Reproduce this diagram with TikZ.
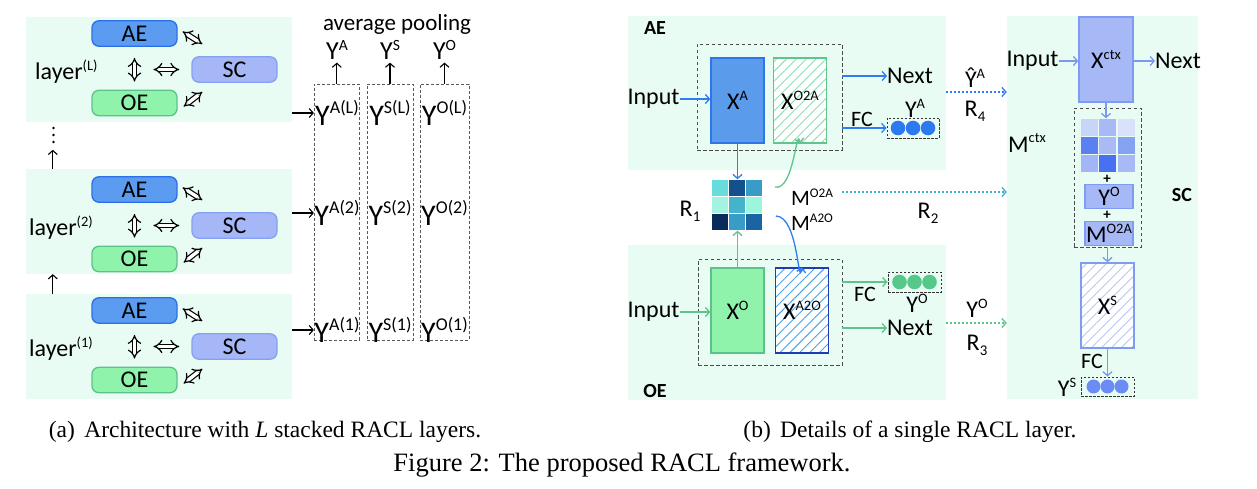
\documentclass[tikz,border=0pt]{standalone}
\usepackage{fontspec}
\setmainfont{Carlito}
\newfontfamily\capfont{Liberation Serif}
\usetikzlibrary{arrows.meta,patterns.meta,calc}
\definecolor{bandc}{HTML}{E9FCF4}
\definecolor{aefill}{HTML}{5B9CF0}
\definecolor{aedraw}{HTML}{2D6FE6}
\definecolor{scfill}{HTML}{A5B7F6}
\definecolor{scdraw}{HTML}{86A0F2}
\definecolor{oefill}{HTML}{8FF3AB}
\definecolor{oedraw}{HTML}{5DC289}
\definecolor{xafill}{HTML}{5A9CEB}
\definecolor{xadraw}{HTML}{2F74E8}
\definecolor{gdraw}{HTML}{5EC58C}
\definecolor{ghatch}{HTML}{8EDDB2}
\definecolor{xofill}{HTML}{8FF3AB}
\definecolor{xodraw}{HTML}{5DC289}
\definecolor{a2odraw}{HTML}{1B3DB5}
\definecolor{bhatch}{HTML}{4AA0EA}
\definecolor{arrblue}{HTML}{2F7DF2}
\definecolor{arrgreen}{HTML}{5CC58C}
\definecolor{arrperi}{HTML}{7A9AF0}
\definecolor{arrcyan}{HTML}{3BAFD0}
\definecolor{cirblue}{HTML}{2C79F0}
\definecolor{cirgreen}{HTML}{55C88A}
\definecolor{cirperi}{HTML}{6B8BF5}
\definecolor{ctxfill}{HTML}{A6B9F6}
\definecolor{ctxdraw}{HTML}{7E9CF2}
\definecolor{phatch}{HTML}{B8C6F6}
\definecolor{rA}{HTML}{66DCDC}
\definecolor{rB}{HTML}{14518C}
\definecolor{rC}{HTML}{389CC6}
\definecolor{rD}{HTML}{A3F2E2}
\definecolor{rE}{HTML}{44B3CB}
\definecolor{rF}{HTML}{9CF6DD}
\definecolor{rG}{HTML}{0B2A5C}
\definecolor{rH}{HTML}{389CC6}
\definecolor{rI}{HTML}{1B63A3}
\definecolor{sA}{HTML}{C9D4F9}
\definecolor{sB}{HTML}{A8B9F6}
\definecolor{sC}{HTML}{DAE1FB}
\definecolor{sD}{HTML}{5C80F2}
\definecolor{sE}{HTML}{A9BAF6}
\definecolor{sF}{HTML}{86A2F2}
\definecolor{sG}{HTML}{A2B5F6}
\definecolor{sH}{HTML}{4A70F2}
\definecolor{sI}{HTML}{A8B9F6}
\newcommand\hi[1]{\raisebox{0.38em}{\scalebox{0.6}{#1}}}
\newcommand\lo[1]{\raisebox{-0.22em}{\scalebox{0.62}{#1}}}
\tikzset{
  band/.style={rectangle, fill=bandc, draw=none},
  pill/.style={rectangle, rounded corners=7pt, minimum width=85pt, minimum height=25.5pt, line width=1.3pt},
  aebox/.style={pill, fill=aefill, draw=aedraw},
  scbox/.style={pill, fill=scfill, draw=scdraw},
  oebox/.style={pill, fill=oefill, draw=oedraw},
  dbl/.style={draw=black, double=white, double distance=3.4pt, line width=1.2pt, {Implies}-{Implies}},
  arr/.style={draw=black, line width=1.1pt, -{Straight Barb[length=4pt,width=9pt]}},
  dcol/.style={rectangle, draw=gray!70!black, dash pattern=on 3pt off 2pt, line width=0.8pt},
  dbox/.style={rectangle, draw=gray!60!black, dash pattern=on 3.5pt off 2.5pt, line width=0.9pt},
  cbox/.style={rectangle, draw=black!80, dash pattern=on 2.5pt off 1.5pt, line width=0.9pt, minimum width=52pt, minimum height=20pt},
  xbox/.style={rectangle, minimum width=53pt, minimum height=85pt, line width=1.4pt},
  sbox/.style={rectangle, minimum width=48pt, minimum height=24pt, line width=1.4pt, fill=ctxfill, draw=ctxdraw},
  barr/.style={draw=arrblue, line width=1.3pt, -{Straight Barb[length=4pt,width=9pt]}},
  garr/.style={draw=arrgreen, line width=1.3pt, -{Straight Barb[length=4pt,width=9pt]}},
  parr/.style={draw=arrperi, line width=1.3pt, -{Straight Barb[length=4pt,width=9pt]}},
  bdot/.style={draw=arrblue, line width=1.3pt, dash pattern=on 2pt off 2pt, -{Straight Barb[length=4pt,width=9pt]}},
  gdot/.style={draw=arrgreen, line width=1.3pt, dash pattern=on 2pt off 2pt, -{Straight Barb[length=4pt,width=9pt]}},
  cyarr/.style={draw=arrcyan, line width=1.3pt, dash pattern=on 2pt off 2pt, -{Straight Barb[length=4pt,width=9pt]}},
  tag/.style={font=\fontsize{20}{22}\selectfont\bfseries},
  fs22/.style={font=\fontsize{22}{24}\selectfont},
  plus/.style={font=\fontsize{15}{16}\selectfont\bfseries},
  ybig/.style={font=\fontsize{30}{32}\selectfont},
  capf/.style={font=\capfont\fontsize{23.5}{28}\selectfont},
  capg/.style={font=\capfont\fontsize{26.5}{30}\selectfont},
  hatchp/.style={preaction={fill=white}, pattern={Lines[angle=45,distance=7pt,line width=0.9pt]}, pattern color=#1}
}
\begin{document}
\begin{tikzpicture}[x=1pt,y=-1pt,font=\fontsize{24}{28}\selectfont, every node/.style={inner sep=0pt}]
\useasboundingbox (0,0) rectangle (1257,489);
\fill[white] (0,0) rectangle (1257,489);
% ---------------- left panel ----------------
\foreach \n/\s/\b/\lx/\lab in {L/0/0/35/(L), 2/156/152/29/(2), 1/277/277/29/(1)} {
  \node[band, minimum width=266pt, minimum height=105pt] (band\n) at (159,69.5+\b) {};
  \node[aebox] (AE\n) at (134.5,33.5+\s) {AE};
  \node[scbox] (SC\n) at (234.5,69.5+\s) {SC};
  \node[oebox] (OE\n) at (134.5,103+\s) {OE};
  \node[anchor=west] (lay\n) at (\lx,72+\s) {layer\hi{\lab}};
  \draw[dbl] ($(AE\n.south)+(0,11)$) -- ($(OE\n.north)+(0,-8)$);
  \draw[dbl] ($(SC\n.west)+(-38,0)$) -- ($(SC\n.west)+(-12,0)$);
  \draw[dbl] ($(AE\n.east)+(5,-2)$) -- ($(SC\n.north west)+(11,-12)$);
  \draw[dbl] ($(OE\n.east)+(6,3.5)$) -- ($(SC\n.south west)+(11,9)$);
}
\foreach \yy in {128,135,142} \fill (53.5,\yy) circle (1.4);
\draw[arr] ($(band2.north west)+(27,0)$) -- ++(0,-19);
\draw[arr] ($(band1.north west)+(27,0)$) -- ($(band2.south west)+(27,0)$);
\node[dcol, minimum width=45pt, minimum height=256pt] (colA) at (336.8,212) {};
\node[dcol, minimum width=46pt, minimum height=256pt] (colS) at (390,212) {};
\node[dcol, minimum width=49pt, minimum height=256pt] (colO) at (444.5,212) {};
\node[ybig] (yAL) at (337,113) {Y\hi{A(L)}};
\node[ybig] (ySL) at (390,113) {Y\hi{S(L)}};
\node[ybig] (yOL) at (444.5,113) {Y\hi{O(L)}};
\node[ybig] (yA2) at (337,213) {Y\hi{A(2)}};
\node[ybig] (yS2) at (390,213) {Y\hi{S(2)}};
\node[ybig] (yO2) at (444.5,213) {Y\hi{O(2)}};
\node[ybig] (yA1) at (337,330) {Y\hi{A(1)}};
\node[ybig] (yS1) at (390,330) {Y\hi{S(1)}};
\node[ybig] (yO1) at (444.5,330) {Y\hi{O(1)}};
\draw[arr] (bandL.east |- yAL) -- (colA.west |- yAL);
\draw[arr] (band2.east |- yA2) -- (colA.west |- yA2);
\draw[arr] (band1.east |- yA1) -- (colA.west |- yA1);
\node[font=\fontsize{26}{28}\selectfont] (pA) at (337,50) {Y\hi{A}};
\node[font=\fontsize{26}{28}\selectfont] (pS) at (390,50) {Y\hi{S}};
\node[font=\fontsize{26}{28}\selectfont] (pO) at (444.5,50) {Y\hi{O}};
\draw[arr] (colA.north) -- ++(0,-21);
\draw[arr] (colS.north) -- ++(0,-21);
\draw[arr] (colO.north) -- ++(0,-21);
\node[font=\fontsize{23}{26}\selectfont] (avg) at (397,24) {average pooling};
% ---------------- right panel: AE ----------------
\node[band, minimum width=318pt, minimum height=154pt] (bAE) at (787,93) {};
\node[band, minimum width=318pt, minimum height=155pt] (bOE) at (787,322.5) {};
\node[band, minimum width=191pt, minimum height=383pt] (bSC) at (1102.5,207.5) {};
\node[tag] (tAE) at (655,28) {AE};
\node[dbox, minimum width=145pt, minimum height=106pt] (dA) at (769.5,97) {};
\node[xbox, fill=xafill, draw=xadraw] (XA) at (737.5,100.5) {X\hi{A}};
\node[xbox, draw=gdraw, hatchp=ghatch] (XO2A) at (800,100.5) {X\hi{O2A}};
\node (inA) at (653.5,99) {Input};
\draw[barr] (inA.east) -- (XA.west |- inA);
\node (nxA) at (910,76) {Next};
\draw[barr] (dA.east |- nxA) -- (nxA.west);
\node[cbox] (cA) at (913,128) {};
\foreach \dx in {-15,0,15} \fill[cirblue] ($(cA)+(\dx,0)$) circle (7.3);
\draw[barr] (dA.east |- cA) -- (cA.west);
\node[fs22] (fcA) at (862,119) {FC};
\node (yA) at (915,108) {Y\hi{A}};
% R1 matrix
\foreach \c/\cx/\cy in {rA/0/0,rB/1/0,rC/2/0,rD/0/1,rE/1/1,rF/2/1,rG/0/2,rH/1/2,rI/2/2}
  \fill[\c] (712+17.1*\cx,180+17*\cy) rectangle ++(16,16);
\node[minimum width=51pt, minimum height=51pt] (R1m) at (737.1,205) {};
\draw[barr] (XA.south) -- (XA.south |- R1m.north);
\node (R1) at (690,211) {R\lo{1}};
\node[fs22] (MO2A) at (812,197) {M\hi{O2A}};
\node[fs22] (MA2O) at (812,222) {M\hi{A2O}};
\draw[garr] ($(R1m.east)+(12,-18)$) to[out=-15,in=100] (XO2A.south);
\coordinate (m1) at (842,192);
\draw[cyarr] (m1) -- (bSC.west |- m1);
\node (R2) at (928,213) {R\lo{2}};
\node (YhA) at (975,78) {\^{Y}\hi{A}};
\node (R4) at (975,111) {R\lo{4}};
\coordinate (m4) at (946,92);
\draw[bdot] (m4) -- (bSC.west |- m4);
% ---------------- right panel: OE ----------------
\node[tag] (tOE) at (655,391) {OE};
\node[dbox, minimum width=144pt, minimum height=106pt] (dO) at (770,312) {};
\node[xbox, fill=xofill, draw=xodraw] (XO) at (737.5,310.5) {X\hi{O}};
\node[xbox, draw=a2odraw, hatchp=bhatch] (XA2O) at (802,310.5) {X\hi{A2O}};
\draw[garr] (XO.north -| XA.south) -- (XA.south |- R1m.south);
\draw[barr] ($(R1m.east)+(13,11)$) to[out=0,in=-100] (XA2O.north);
\node (inO) at (653.5,312) {Input};
\draw[garr] (inO.east) -- (XO.west |- inO);
\node[cbox, minimum width=53pt] (cO) at (914.5,282) {};
\foreach \dx in {-15,0,15} \fill[cirgreen] ($(cO)+(\dx,0)$) circle (7.3);
\draw[garr] (dO.east |- cO) -- (cO.west);
\node[fs22] (fcO) at (865,294) {FC};
\node (yO) at (917,303) {Y\hi{O}};
\node (nxO) at (910,328) {Next};
\draw[garr] (dO.east |- nxO) -- (nxO.west);
\node (YO3) at (977,308) {Y\hi{O}};
\node (R3) at (977,345) {R\lo{3}};
\coordinate (m3) at (946,323);
\draw[gdot] (m3) -- (bSC.west |- m3);
% ---------------- right panel: SC ----------------
\node[tag] (tSC) at (1182,195) {SC};
\node[xbox, minimum width=54pt, fill=ctxfill, draw=ctxdraw] (Xctx) at (1106,59.5) {X\hi{ctx}};
\node (inS) at (1032.5,61) {Input};
\draw[parr] (inS.east) -- (Xctx.west |- inS);
\node (nxS) at (1178,61) {Next};
\draw[parr] (Xctx.east |- nxS) -- (nxS.west);
\node[dbox, minimum width=67pt, minimum height=139pt] (dS) at (1107.5,177.5) {};
\foreach \c/\cx/\cy in {sA/0/0,sB/1/0,sC/2/0,sD/0/1,sE/1/1,sF/2/1,sG/0/2,sH/1/2,sI/2/2}
  \fill[\c] (1081+18.3*\cx,119+18*\cy) rectangle ++(17,17);
\node[minimum width=54pt, minimum height=54pt] (Sm) at (1107.5,145.5) {};
\draw[parr] (Xctx.south) -- (Xctx.south |- Sm.north);
\node[plus] (pl1) at (1107,179) {+};
\node[sbox] (sY) at (1109,196.5) {Y\hi{O}};
\node[plus] (pl2) at (1107,215.5) {+};
\node[sbox] (sM) at (1109,233.5) {M\hi{O2A}};
\node[xbox, draw=ctxdraw, hatchp=phatch] (XS) at (1107.5,305.5) {X\hi{S}};
\draw[parr] (dS.south) -- (dS.south |- XS.north);
\node[cbox, minimum width=53pt, minimum height=19pt] (cS) at (1107.5,386.5) {};
\foreach \dx in {-14,0,14} \fill[cirperi] ($(cS)+(\dx,0)$) circle (7);
\draw[parr] (XS.south) -- (cS.north);
\node[fs22] (fcS) at (1092,361) {FC};
\node (yS) at (1067,387) {Y\hi{S}};
\node (Mctx) at (1027,143) {M\hi{ctx}};
% ---------------- captions ----------------
\node[capf] (capa) at (265,432) {(a)\hskip0.4em Architecture with \textit{L} stacked RACL layers.};
\node[capf] (capb) at (910,432) {(b)\hskip0.4em Details of a single RACL layer.};
\node[capg] (capfig) at (622,465) {Figure 2: The proposed RACL framework.};
\end{tikzpicture}
\end{document}
